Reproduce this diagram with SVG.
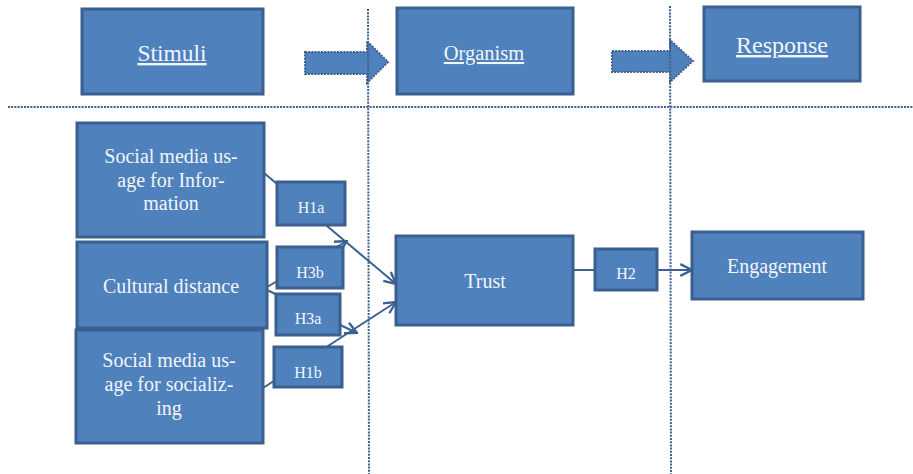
<svg xmlns="http://www.w3.org/2000/svg" width="913" height="474" viewBox="0 0 913 474">
  <style>
    .box { fill: #4f81bd; stroke: #3b5f8e; stroke-width: 3; }
    .txt { font-family: 'Liberation Serif', 'DejaVu Serif', serif; fill: #f2f5fa; text-anchor: middle; }
    .n { font-size: 20px; }
    .h { font-size: 16px; }
    .dot { fill: none; stroke: #3e6090; stroke-width: 2; stroke-dasharray: 2 1.2; }
    .barrow { fill: #4f81bd; stroke: #3e6090; stroke-width: 2; stroke-dasharray: 2 1.2; }
    .link { fill: none; stroke: #3b6192; stroke-width: 2; }
  </style>
  <defs>
    <marker id="open" viewBox="0 0 12 12" refX="11" refY="6" markerWidth="14" markerHeight="14" markerUnits="userSpaceOnUse" orient="auto">
      <path d="M1,1 L11,6 L1,11" fill="none" stroke="#3b6192" stroke-width="2"/>
    </marker>
  </defs>

  <!-- stage header arrows -->
  <g id="stage-arrows">
    <path class="barrow" d="M305,52 H367 V41 L388,62 L367,83 V74 H305 Z"/>
    <path class="barrow" d="M612,51 H670 V40 L693,61 L670,82 V72 H612 Z"/>
  </g>

  <!-- dotted stage separators -->
  <g id="separators">
    <line class="dot" x1="8" y1="107" x2="913" y2="107"/>
    <line class="dot" x1="368" y1="9" x2="369" y2="474"/>
    <line class="dot" x1="670" y1="6" x2="671" y2="474"/>
  </g>

  <!-- stage headers -->
  <g id="stimuli">
    <rect class="box" x="82" y="9" width="181" height="85"/>
    <text class="txt" x="172" y="61" font-size="23.5" text-decoration="underline">Stimuli</text>
  </g>
  <g id="organism">
    <rect class="box" x="397" y="8" width="176" height="86"/>
    <text class="txt" x="484" y="60" font-size="20.5" text-decoration="underline">Organism</text>
  </g>
  <g id="response">
    <rect class="box" x="704" y="7" width="156" height="74"/>
    <text class="txt" x="782" y="53" font-size="24" text-decoration="underline">Response</text>
  </g>

  <!-- connectors -->
  <g id="connectors">
    <line class="link" x1="264" y1="173" x2="396" y2="284" marker-end="url(#open)"/>
    <line class="link" x1="263" y1="388" x2="396" y2="302" marker-end="url(#open)"/>
    <line class="link" x1="267" y1="287" x2="347" y2="241" marker-end="url(#open)"/>
    <line class="link" x1="267" y1="290" x2="357" y2="333" marker-end="url(#open)"/>
    <line class="link" x1="573" y1="270" x2="692" y2="270" marker-end="url(#open)"/>
  </g>

  <!-- model nodes -->
  <g id="info-usage">
    <rect class="box" x="77" y="123" width="187" height="114"/>
    <text class="txt n" x="171" y="163">Social media us-</text>
    <text class="txt n" x="171" y="187">age for Infor-</text>
    <text class="txt n" x="171" y="210">mation</text>
  </g>
  <g id="cultural-distance">
    <rect class="box" x="77" y="242" width="190" height="86"/>
    <text class="txt n" x="171" y="293">Cultural distance</text>
  </g>
  <g id="social-usage">
    <rect class="box" x="76" y="330" width="187" height="113"/>
    <text class="txt n" x="169" y="367">Social media us-</text>
    <text class="txt n" x="169" y="391">age for socializ-</text>
    <text class="txt n" x="169" y="415">ing</text>
  </g>
  <g id="h1a">
    <rect class="box" x="277" y="182" width="68" height="43"/>
    <text class="txt h" x="311" y="213">H1a</text>
  </g>
  <g id="h3b">
    <rect class="box" x="277" y="247" width="66" height="41"/>
    <text class="txt h" x="310" y="278">H3b</text>
  </g>
  <g id="h3a">
    <rect class="box" x="276" y="294" width="64" height="41"/>
    <text class="txt h" x="308" y="324">H3a</text>
  </g>
  <g id="h1b">
    <rect class="box" x="274" y="347" width="68" height="40"/>
    <text class="txt h" x="308" y="378">H1b</text>
  </g>
  <g id="trust">
    <rect class="box" x="396" y="236" width="177" height="89"/>
    <text class="txt n" x="485" y="288">Trust</text>
  </g>
  <g id="h2">
    <rect class="box" x="595" y="249" width="62" height="41"/>
    <text class="txt h" x="626" y="279">H2</text>
  </g>
  <g id="engagement">
    <rect class="box" x="692" y="232" width="171" height="67"/>
    <text class="txt n" x="777" y="273">Engagement</text>
  </g>
</svg>
